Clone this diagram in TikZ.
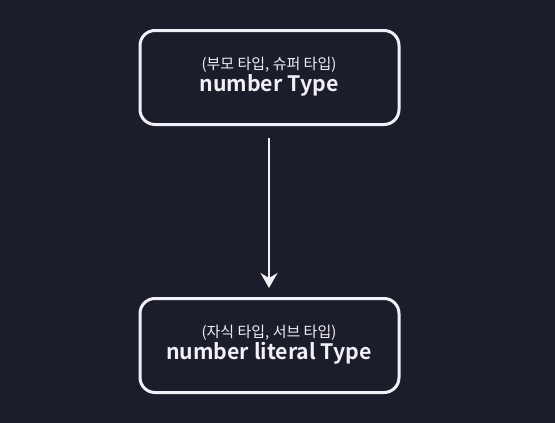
\documentclass[tikz,border=0pt]{standalone}
\usepackage{fontspec}
\setmainfont{Noto Sans CJK KR}
\newfontfamily\krbold{Noto Sans CJK KR Bold}
\usetikzlibrary{arrows.meta}
\definecolor{bgnavy}{HTML}{1C1D2B}
\definecolor{lineclr}{HTML}{F0F0F5}
\tikzset{
  typebox/.style={draw=lineclr, line width=3pt, rounded corners=15pt,
    minimum width=259pt, minimum height=94pt, align=center,
    text=lineclr, inner sep=0pt},
  subtxt/.style={font=\fontsize{15}{17}\selectfont},
  maintxt/.style={font=\krbold\fontsize{21.3}{25}\selectfont},
  link/.style={draw=lineclr, line width=2.5pt,
    -{Stealth[length=15pt, width=17pt, inset=5pt]}}
}
\begin{document}
\begin{tikzpicture}[x=1pt, y=-1pt]
  \fill[bgnavy] (0,0) rectangle (555,423);
  \useasboundingbox (0,0) rectangle (555,423);
  \node[typebox] (super) at (269.5,77.5) {};
  \node[text=lineclr, subtxt] (superlab) at (269,65) {(부모 타입, 슈퍼 타입)};
  \node[text=lineclr, maintxt] (supername) at (269,85) {number Type};
  \node[typebox] (sub) at (269.5,345.5) {};
  \node[text=lineclr, subtxt] (sublab) at (269,333) {(자식 타입, 서브 타입)};
  \node[text=lineclr, maintxt] (subname) at (269,353) {number literal Type};
  \coordinate (from) at (269,138);
  \coordinate (to) at (269,288);
  \draw[link] (from) -- (to);
\end{tikzpicture}
\end{document}
